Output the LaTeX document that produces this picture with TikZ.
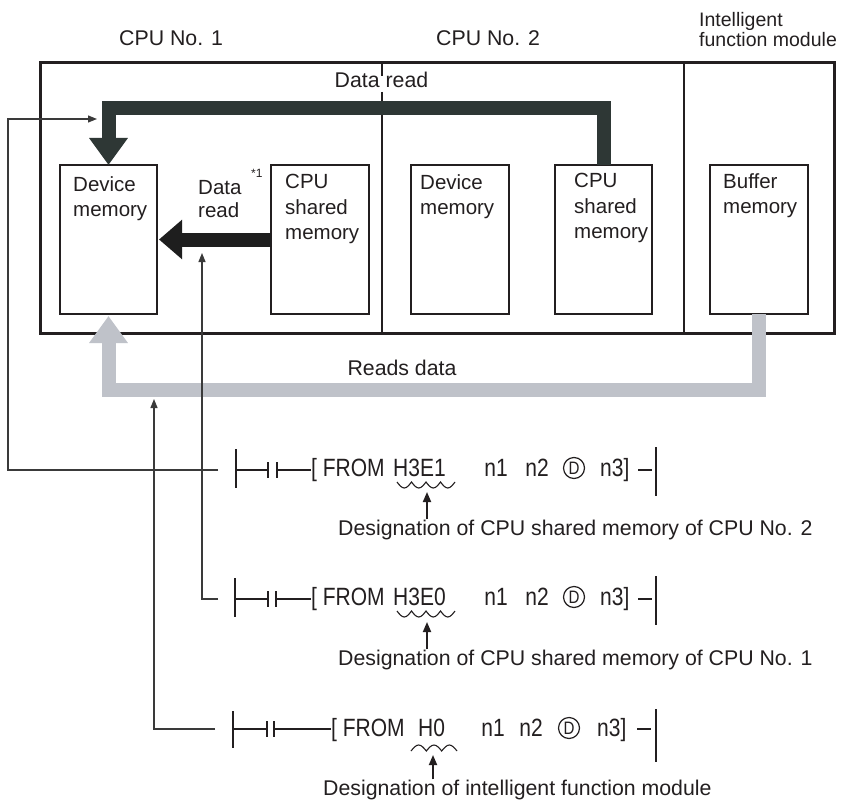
\documentclass[tikz,border=0pt]{standalone}
\usepackage{fontspec}
\setmainfont{Liberation Sans}
\newfontfamily\ladfont[FakeStretch=0.84]{Liberation Sans}
\usetikzlibrary{arrows.meta}
\definecolor{ink}{HTML}{231F20}
\definecolor{darkbar}{HTML}{2E3735}
\definecolor{blackbar}{HTML}{1E1E1E}
\definecolor{graybar}{HTML}{BFC2C9}
\definecolor{wirec}{HTML}{3A3A3A}
\begin{document}
\begin{tikzpicture}[x=1pt,y=-1pt,
  lbl/.style={font=\fontsize{21.3}{25}\selectfont, text=ink, inner sep=0pt},
  boxlbl/.style={font=\fontsize{20.5}{25.5}\selectfont, text=ink, inner sep=0pt, align=left, anchor=north west},
  lad/.style={font=\ladfont\fontsize{25}{27}\selectfont, text=ink, inner sep=0pt},
  membox/.style={draw=ink, line width=1.3pt, anchor=north west, minimum height=149pt, inner sep=0pt, outer sep=0pt},
  framebox/.style={draw=ink, line width=3pt, anchor=north west, minimum width=794pt, minimum height=270pt, inner sep=0pt, outer sep=0pt},
  divider/.style={draw=ink, line width=2.6pt},
  bigarrow/.style={line width=14pt, line join=miter, -{Triangle[length=27pt,width=37pt]}},
  sig/.style={draw=wirec, line width=1.2pt, -{Triangle[length=9pt,width=7pt]}},
  rail/.style={draw=ink, line width=2.6pt},
  wire/.style={draw=ink, line width=1.4pt},
  wave/.style={draw=ink, line width=1.1pt},
  ptr/.style={draw=ink, line width=1.8pt, -{Triangle[length=10pt,width=8pt]}},
  circD/.style={circle, draw=ink, line width=1.2pt, minimum size=21pt, inner sep=0pt, font=\ladfont\fontsize{18}{18}\selectfont, text=ink}
]
\useasboundingbox (0,0) rectangle (850,805);
\fill[white] (0,0) rectangle (850,805);

% top labels
\node[lbl, anchor=base west] (cpu1) at (119,46) {CPU No. 1};
\node[lbl, anchor=base west] (cpu2) at (436,46) {CPU No. 2};
\node[lbl, font=\fontsize{19.5}{20}\selectfont, anchor=north west, align=left] (ifm) at (699,12) {Intelligent\\function module};

% frame
\node[framebox] (frame) at (40,63) {};
\draw[divider] (382,63) -- (382,76);
\draw[divider] (382,92) -- (382,333);
\draw[divider] (684,63) -- (684,333);
\node[lbl, anchor=base] (dread) at (381.5,88) {Data read};

% memory boxes
\node[membox, minimum width=97pt] (dm1) at (60,165) {};
\node[membox, minimum width=98pt] (cs1) at (271,165) {};
\node[membox, minimum width=98pt] (dm2) at (411,165) {};
\node[membox, minimum width=97pt] (cs2) at (555,165) {};
\node[membox, minimum width=98pt] (buf) at (710,165) {};

\node[boxlbl] (dm1t) at (73,176) {Device\\memory};
\node[boxlbl] (cs1t) at (285,174) {CPU\\shared\\memory};
\node[boxlbl, font=\fontsize{20.5}{23}\selectfont] (drt) at (198,180) {Data\\read};
\node[lbl, font=\fontsize{12}{12}\selectfont, anchor=base west] (note) at (251,178) {*1};
\node[boxlbl] (dm2t) at (420,174) {Device\\memory};
\node[boxlbl] (cs2t) at (574,173) {CPU\\shared\\memory};
\node[boxlbl] (buft) at (723,173) {Buffer\\memory};

% big arrows
\coordinate (dtop) at (0,108.5);
\coordinate (gbot) at (0,390);
\draw[bigarrow, draw=darkbar] (cs2.north) -- (cs2.north |- dtop) -- (dm1.north |- dtop) -- (dm1.north);
\draw[line width=14pt, draw=blackbar, -{Triangle[length=23pt,width=38pt]}, shorten >=2pt] (cs1.west) -- (dm1.east);
\draw[bigarrow, draw=graybar, shorten >=2pt] (buf.south) -- (buf.south |- gbot) -- (dm1.south |- gbot) -- (dm1.south);
\node[lbl, anchor=base] (rdata) at (402,375) {Reads data};

% signal lines
\coordinate (r1in) at (218,470);
\coordinate (a1) at (97,119);
\coordinate (r2in) at (218,599);
\coordinate (a2) at (202,253);
\coordinate (r3in) at (215,729);
\coordinate (a3) at (154,399);
\draw[sig] (r1in) -- (8,470) -- (8,119) -- (a1);
\draw[sig] (r2in) -- (202,599) -- (a2);
\draw[sig] (r3in) -- (154,729) -- (a3);

% rung 1
\draw[rail] (236,449) -- (236,488);
\draw[wire] (236,470) -- (268,470);
\draw[rail] (268,462) -- (268,478);
\draw[rail] (277,462) -- (277,478);
\draw[wire] (277,470) -- (311,470);
\node[lad, anchor=base west] (r1from) at (311,476) {[ FROM};
\node[lad, anchor=base west] (r1h) at (393,476) {H3E1};
\draw[wave] (397,482) \foreach \i in {1,...,4}{ sin ++(7.25,6) cos ++(7.25,-6) };
\node[lad, anchor=base] (r1n1) at (496,476) {n1};
\node[lad, anchor=base] (r1n2) at (537,476) {n2};
\node[circD] (r1d) at (574,468) {D};
\node[lad, anchor=base west] (r1n3) at (600,476) {n3]};
\draw[wire] (638,470) -- (652,470);
\draw[rail] (656,447) -- (656,496);
\node[lbl, anchor=base west] (des1) at (338,535) {Designation of CPU shared memory of CPU No. 2};
\coordinate (w1) at (427,492);
\draw[ptr] (des1.north -| w1) -- (w1);

% rung 2
\draw[rail] (235,578) -- (235,617);
\draw[wire] (235,599) -- (268,599);
\draw[rail] (268,591) -- (268,607);
\draw[rail] (276,591) -- (276,607);
\draw[wire] (276,599) -- (311,599);
\node[lad, anchor=base west] (r2from) at (311,605) {[ FROM};
\node[lad, anchor=base west] (r2h) at (393,605) {H3E0};
\draw[wave] (397,611) \foreach \i in {1,...,4}{ sin ++(7.25,6) cos ++(7.25,-6) };
\node[lad, anchor=base] (r2n1) at (496,605) {n1};
\node[lad, anchor=base] (r2n2) at (537,605) {n2};
\node[circD] (r2d) at (574,597) {D};
\node[lad, anchor=base west] (r2n3) at (600,605) {n3]};
\draw[wire] (638,599) -- (652,599);
\draw[rail] (656,576) -- (656,625);
\node[lbl, anchor=base west] (des2) at (338,665) {Designation of CPU shared memory of CPU No. 1};
\coordinate (w2) at (427,622);
\draw[ptr] (des2.north -| w2) -- (w2);

% rung 3
\draw[rail] (233,711) -- (233,748);
\draw[wire] (233,729) -- (267,729);
\draw[rail] (267,721) -- (267,737);
\draw[rail] (274,721) -- (274,737);
\draw[wire] (274,729) -- (331,729);
\node[lad, anchor=base west] (r3from) at (331,736) {[ FROM};
\node[lad, anchor=base west] (r3h) at (418,736) {H0};
\draw[wave] (411,751) \foreach \i in {1,...,3}{ sin ++(7.67,-6) cos ++(7.67,6) };
\node[lad, anchor=base] (r3n1) at (493,736) {n1};
\node[lad, anchor=base] (r3n2) at (531,736) {n2};
\node[circD] (r3d) at (569,728) {D};
\node[lad, anchor=base west] (r3n3) at (597,736) {n3]};
\draw[wire] (637,729) -- (651,729);
\draw[rail] (656,709) -- (656,762);
\node[lbl, anchor=base west] (des3) at (323,795) {Designation of intelligent function module};
\coordinate (w3) at (433,755);
\draw[ptr] (des3.north -| w3) -- (w3);
\end{tikzpicture}
\end{document}
